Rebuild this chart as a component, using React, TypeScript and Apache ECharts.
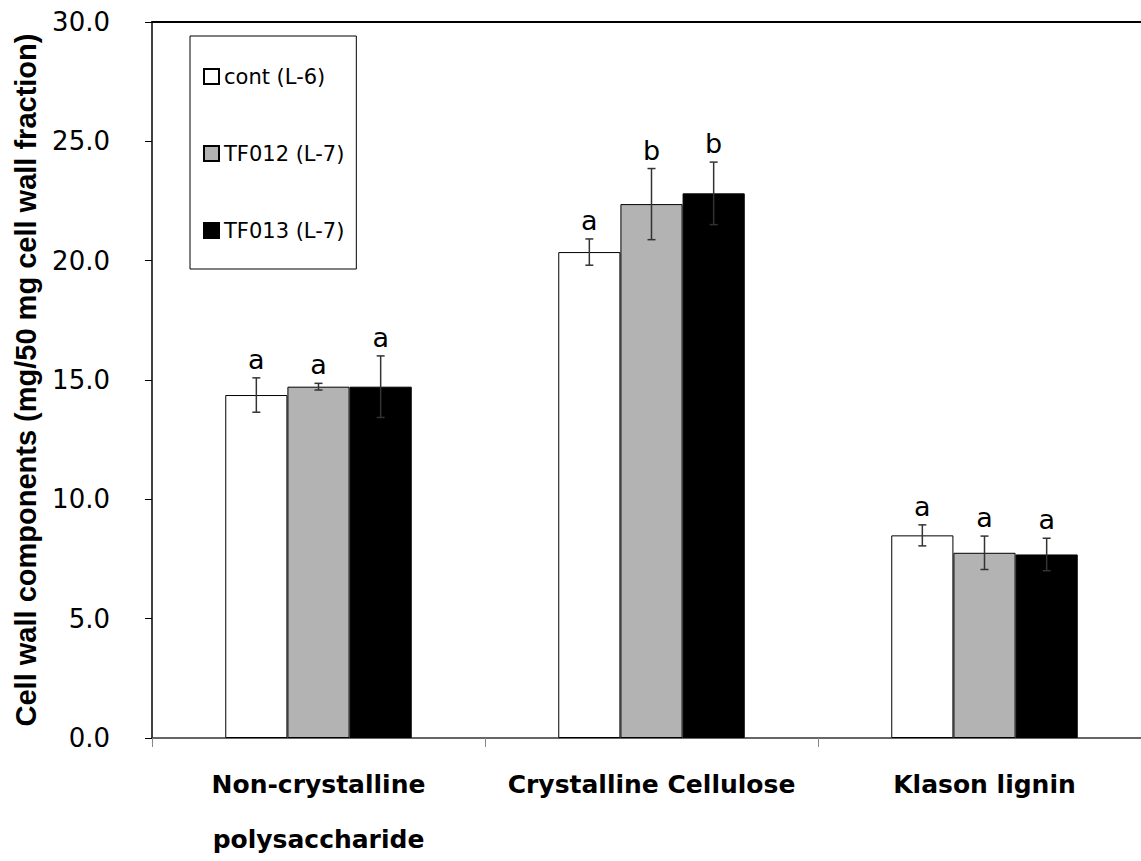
import React, { useEffect, useRef } from 'react';
import * as echarts from 'echarts';

const categories = ['Non-crystalline\npolysaccharide', 'Crystalline Cellulose', 'Klason lignin'];
const seriesNames = ['cont (L-6)', 'TF012 (L-7)', 'TF013 (L-7)'];
const seriesColors = ['#ffffff', '#b3b3b3', '#000000'];

const contValues = [14.37, 20.36, 8.49];
const tf012Values = [14.72, 22.37, 7.76];
const tf013Values = [14.72, 22.82, 7.69];

const contErrors = [0.72, 0.55, 0.44];
const tf012Errors = [0.14, 1.49, 0.7];
const tf013Errors = [1.29, 1.31, 0.68];

const contLetters = ['a', 'a', 'a'];
const tf012Letters = ['a', 'b', 'a'];
const tf013Letters = ['a', 'b', 'a'];

const yMin = 0;
const yMax = 30;
const yInterval = 5;

const yAxisTitle = 'Cell wall components (mg/50 mg cell wall fraction)';

const CATEGORY_GAP = 0.44;

export default function App() {
  const ref = useRef<HTMLDivElement>(null);

  useEffect(() => {
    if (!ref.current) return;
    const chart = echarts.init(ref.current, null, { renderer: 'svg' });

    const values = [contValues, tf012Values, tf013Values];
    const errors = [contErrors, tf012Errors, tf013Errors];
    const letters = [contLetters, tf012Letters, tf013Letters];

    const barSeries = values.map((vals, si) => ({
      name: seriesNames[si],
      type: 'bar',
      data: vals,
      barGap: '0%',
      barCategoryGap: CATEGORY_GAP * 100 + '%',
      itemStyle: { color: seriesColors[si], borderColor: '#000', borderWidth: 1 },
      z: 2,
    }));

    const errSeries = values.map((vals, si) => ({
      name: seriesNames[si] + ' err',
      type: 'custom',
      clip: false,
      z: 5,
      data: vals.map((v, i) => [i, v, errors[si][i]]),
      encode: { x: 0, y: 1 },
      renderItem: (params: any, api: any) => {
        const cat = api.value(0);
        const val = api.value(1);
        const err = api.value(2);
        const band = api.size([1, 0])[0];
        const bw = (band * (1 - CATEGORY_GAP)) / 3;
        const cx = api.coord([cat, val])[0] + (si - 1) * bw;
        const yTop = api.coord([cat, val + err])[1];
        const yBot = api.coord([cat, val - err])[1];
        const cap = 4;
        const st = { stroke: '#333', lineWidth: 1.5 };
        return {
          type: 'group',
          children: [
            { type: 'line', shape: { x1: cx, y1: yTop, x2: cx, y2: yBot }, style: st },
            { type: 'line', shape: { x1: cx - cap, y1: yTop, x2: cx + cap, y2: yTop }, style: st },
            { type: 'line', shape: { x1: cx - cap, y1: yBot, x2: cx + cap, y2: yBot }, style: st },
            {
              type: 'text',
              x: cx,
              y: yTop - 5,
              style: {
                text: letters[si][params.dataIndex],
                fill: '#000',
                fontSize: 27,
                fontFamily: 'DejaVu Sans',
                textAlign: 'center',
                textVerticalAlign: 'bottom',
              },
            },
          ],
        };
      },
    }));

    chart.setOption({
      animation: false,
      backgroundColor: '#ffffff',
      grid: {
        left: 152,
        top: 22,
        width: 999,
        height: 716,
        containLabel: false,
        outerBoundsMode: 'none',
      },
      legend: {
        data: seriesNames,
        orient: 'vertical',
        left: 190,
        top: 36,
        icon: 'rect',
        selectedMode: false,
        borderColor: '#000',
        borderWidth: 1,
        padding: [30, 12, 28, 13],
        itemGap: 56,
        itemWidth: 15,
        itemHeight: 15,
        textStyle: { fontSize: 21, fontFamily: 'DejaVu Sans', color: '#000', lineHeight: 17 },
      },
      xAxis: [
        {
          type: 'category',
          data: categories,
          position: 'bottom',
          axisLine: { lineStyle: { color: '#333', width: 1.5 } },
          axisTick: { show: true, alignWithLabel: false, length: 9, lineStyle: { color: '#888' } },
          axisLabel: {
            margin: 19,
            color: '#000',
            fontSize: 25,
            fontWeight: 'bold',
            fontFamily: 'DejaVu Sans',
            lineHeight: 55,
            interval: 0,
          },
        },
        {
          type: 'category',
          data: categories,
          position: 'top',
          axisLine: { show: true, lineStyle: { color: '#000', width: 2 } },
          axisTick: { show: false },
          axisLabel: { show: false },
        },
      ],
      yAxis: {
        type: 'value',
        min: yMin,
        max: yMax,
        interval: yInterval,
        name: yAxisTitle,
        nameLocation: 'middle',
        nameGap: 112,
        nameTextStyle: {
          fontSize: 29,
          fontWeight: 'bold',
          fontFamily: 'Liberation Sans',
          color: '#000',
        },
        axisLine: { show: true, lineStyle: { color: '#000', width: 1.5 } },
        axisTick: { show: true, length: 7, lineStyle: { color: '#000' } },
        splitLine: { show: false },
        axisLabel: {
          margin: 42,
          color: '#000',
          fontSize: 26,
          fontFamily: 'DejaVu Sans',
          formatter: (v: number) => v.toFixed(1),
        },
      },
      series: [...barSeries, ...errSeries],
    });

    return () => chart.dispose();
  }, []);

  return (
    <div
      ref={ref}
      style={{ position: 'fixed', left: 0, top: 0, width: 1141, height: 861, background: '#fff' }}
    />
  );
}
